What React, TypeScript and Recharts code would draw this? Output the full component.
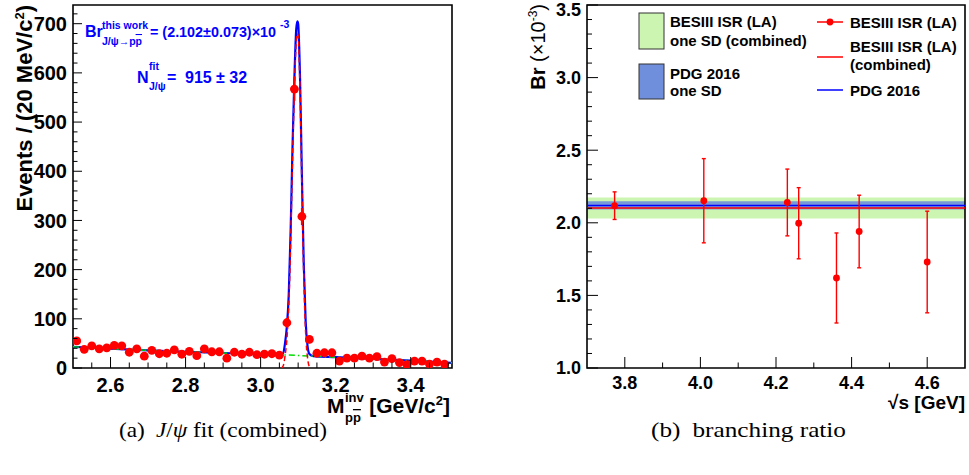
import React from 'react';
import {
  ComposedChart,
  Scatter,
  Line,
  XAxis,
  YAxis,
  ErrorBar,
  ReferenceArea,
  ReferenceLine,
} from 'recharts';

const FONT = '"Liberation Sans", Arial, Helvetica, sans-serif';
const SERIF = '"Liberation Serif", "Times New Roman", serif';
const RED = '#ff0000';
const BLUE = '#0000ff';

// (a) invariant mass histogram, 20 MeV bins
const massBins = [
  2.51, 2.53, 2.55, 2.57, 2.59, 2.61, 2.63, 2.65, 2.67, 2.69,
  2.71, 2.73, 2.75, 2.77, 2.79, 2.81, 2.83, 2.85, 2.87, 2.89,
  2.91, 2.93, 2.95, 2.97, 2.99, 3.01, 3.03, 3.05, 3.07, 3.09,
  3.11, 3.13, 3.15, 3.17, 3.19, 3.21, 3.23, 3.25, 3.27, 3.29,
  3.31, 3.33, 3.35, 3.37, 3.39, 3.41, 3.43, 3.45, 3.47, 3.49,
];
const events = [
  55, 38, 45, 39, 41, 46, 45, 32, 39, 24,
  36, 29, 30, 37, 28, 34, 25, 39, 33, 33,
  20, 32, 28, 32, 27, 28, 29, 26, 92, 567,
  308, 58, 30, 31, 31, 14, 20, 20, 24, 20,
  23, 12, 19, 11, 7, 14, 14, 8, 12, 8,
];
const eventErrors = [
  7.4, 6.2, 6.7, 6.2, 6.4, 6.8, 6.7, 5.7, 6.2, 4.9,
  6, 5.4, 5.5, 6.1, 5.3, 5.8, 5, 6.2, 5.7, 5.7,
  4.5, 5.7, 5.3, 5.7, 5.2, 5.3, 5.4, 5.1, 9.6, 23.8,
  17.5, 7.6, 5.5, 5.6, 5.6, 3.7, 4.5, 4.5, 4.9, 4.5,
  4.8, 3.5, 4.4, 3.3, 2.7, 3.7, 3.7, 2.8, 3.5, 2.8,
];

// fit curves (total, signal, background)
const fitMass = [
  2.5, 2.6, 2.7, 2.8, 2.9, 3.0, 3.05, 3.06, 3.065, 3.07, 3.075, 3.08, 3.085, 3.09,
  3.095, 3.098, 3.1, 3.105, 3.11, 3.115, 3.12, 3.125, 3.13, 3.14, 3.2, 3.3, 3.4, 3.51,
];
const fitTotal = [
  43, 39.5, 36, 33, 30.5, 28, 26.5, 30, 50, 85, 150, 280, 450, 590,
  690, 705, 700, 590, 390, 210, 95, 45, 28.5, 24, 22, 18.5, 15, 10.5,
];
const signalMass = [
  3.055, 3.06, 3.065, 3.07, 3.075, 3.08, 3.085, 3.09, 3.095,
  3.098, 3.1, 3.105, 3.11, 3.115, 3.12, 3.125, 3.13, 3.136,
];
const signalFit = [0, 4, 24, 59, 124, 254, 424, 564, 664, 680, 675, 566, 366, 186, 71, 21, 3, 0];
const bkgMass = [2.5, 2.6, 2.7, 2.8, 2.9, 3.0, 3.1, 3.2, 3.3, 3.4, 3.51];
const bkgFit = [43, 39.5, 36, 33, 30.5, 28, 25.5, 22, 18.5, 15, 10.5];

const massTicks = [2.6, 2.8, 3.0, 3.2, 3.4];
const eventTicks = [0, 100, 200, 300, 400, 500, 600, 700];

// (b) branching ratio per energy point
const energies = [3.773, 4.009, 4.23, 4.26, 4.36, 4.42, 4.6];
const brValues = [2.118, 2.152, 2.14, 1.997, 1.62, 1.94, 1.73];
const brErrors = [0.095, 0.29, 0.23, 0.245, 0.31, 0.25, 0.35];
const brCombined = 2.102;
const brCombinedErr = 0.073;
const brPdg = 2.12;
const brPdgErr = 0.029;

const energyTicks = [3.8, 4.0, 4.2, 4.4, 4.6];
const brTicks = [1.0, 1.5, 2.0, 2.5, 3.0, 3.5];

const steps = (from: number, to: number, step: number) => {
  const out: number[] = [];
  for (let i = 0; from + i * step <= to + 1e-9; i++) out.push(+(from + i * step).toFixed(4));
  return out;
};

const massPoints = massBins.map((x, i) => ({ x, y: events[i], ex: 0.01, ey: eventErrors[i] }));
const totalCurve = fitMass.map((x, i) => ({ x, y: fitTotal[i] }));
const signalCurve = signalMass.map((x, i) => ({ x, y: signalFit[i] }));
const bkgCurve = bkgMass.map((x, i) => ({ x, y: bkgFit[i] }));
const brPoints = energies.map((x, i) => ({ x, y: brValues[i], err: brErrors[i] }));

const isIn = (v: number, list: number[]) => list.some((m) => Math.abs(m - v) < 1e-6);

type TickOpts = { majors: number[]; major: number; minor: number; size: number; digits: number; drop?: number };

const makeYTick = (o: TickOpts) => (props: any) => {
  const { x, y, payload } = props;
  const big = isIn(payload.value, o.majors);
  // ROOT nudges the topmost label down so it stays inside the pad
  const ty = Math.max(y, 10);
  return (
    <g>
      <line x1={x} x2={x + (big ? o.major : o.minor)} y1={y} y2={y} stroke="#000" strokeWidth={1} />
      {big && (
        <text x={x - 6} y={ty} dy="0.36em" textAnchor="end" fontFamily={FONT} fontWeight="bold" fontSize={o.size} fill="#000">
          {payload.value.toFixed(o.digits)}
        </text>
      )}
    </g>
  );
};

const makeXTick = (o: TickOpts) => (props: any) => {
  const { x, y, payload } = props;
  const big = isIn(payload.value, o.majors);
  return (
    <g>
      <line x1={x} x2={x} y1={y} y2={y - (big ? o.major : o.minor)} stroke="#000" strokeWidth={1} />
      {big && (
        <text x={x} y={y + (o.drop || 22)} textAnchor="middle" fontFamily={FONT} fontWeight="bold" fontSize={o.size} fill="#000">
          {payload.value.toFixed(o.digits)}
        </text>
      )}
    </g>
  );
};

const dot = (r: number) => (p: any) => <circle cx={p.cx} cy={p.cy} r={r} fill={RED} />;

const MassFit = () => (
  <ComposedChart width={480} height={430} margin={{ top: 5, right: 28, bottom: 32, left: 0 }}>
    <XAxis
      type="number"
      dataKey="x"
      domain={[2.5, 3.51]}
      allowDataOverflow
      ticks={steps(2.55, 3.5, 0.05)}
      interval={0}
      tickSize={0}
      tickMargin={0}
      tickLine={false}
      axisLine={false}
      height={30}
      tick={makeXTick({ majors: massTicks, major: 11, minor: 5.5, size: 20, digits: 1, drop: 24 })}
    />
    <YAxis
      type="number"
      dataKey="y"
      domain={[0, 738]}
      allowDataOverflow
      ticks={steps(0, 720, 20)}
      interval={0}
      tickSize={0}
      tickMargin={0}
      tickLine={false}
      axisLine={false}
      width={73}
      tick={makeYTick({ majors: eventTicks, major: 9, minor: 4.5, size: 20, digits: 0 })}
    />
    <Line data={totalCurve} dataKey="y" type="monotone" stroke={BLUE} strokeWidth={2.2} dot={false} activeDot={false} isAnimationActive={false} />
    <Line data={bkgCurve} dataKey="y" type="monotone" stroke="#00dd00" strokeWidth={1.5} strokeDasharray="6 3 1.5 3" dot={false} activeDot={false} isAnimationActive={false} />
    <Line data={signalCurve} dataKey="y" type="monotone" stroke={RED} strokeWidth={1.5} strokeDasharray="5 3" dot={false} activeDot={false} isAnimationActive={false} />
    <Scatter data={massPoints} fill={RED} shape={dot(4.4)} isAnimationActive={false}>
      <ErrorBar dataKey="ex" direction="x" width={0} stroke={RED} strokeWidth={2} />
      <ErrorBar dataKey="ey" direction="y" width={0} stroke={RED} strokeWidth={2} />
    </Scatter>
    <ReferenceArea x1={2.5} x2={3.51} y1={0} y2={738} fill="none" fillOpacity={0} stroke="#000" strokeWidth={1.6} />
  </ComposedChart>
);

const BranchingRatio = () => (
  <ComposedChart width={469} height={430} margin={{ top: 5, right: 4, bottom: 32, left: 0 }}>
    <XAxis
      type="number"
      dataKey="x"
      domain={[3.7, 4.7]}
      allowDataOverflow
      ticks={[3.8, 3.9, 4.0, 4.1, 4.2, 4.3, 4.4, 4.5, 4.6]}
      interval={0}
      tickSize={0}
      tickMargin={0}
      tickLine={false}
      axisLine={false}
      height={30}
      tick={makeXTick({ majors: energyTicks, major: 11, minor: 5.5, size: 18, digits: 1, drop: 21 })}
    />
    <YAxis
      type="number"
      dataKey="y"
      domain={[1, 3.5]}
      allowDataOverflow
      ticks={steps(1.0, 3.5, 0.1)}
      interval={0}
      tickSize={0}
      tickMargin={0}
      tickLine={false}
      axisLine={false}
      width={87}
      tick={makeYTick({ majors: brTicks, major: 11, minor: 5, size: 18, digits: 1 })}
    />
    <ReferenceArea y1={brCombined - brCombinedErr} y2={brCombined + brCombinedErr} fill="#cdf5b2" fillOpacity={1} />
    <ReferenceArea y1={brPdg - brPdgErr} y2={brPdg + brPdgErr} fill="#6f8fdc" fillOpacity={0.9} />
    <ReferenceLine y={brCombined} stroke={RED} strokeWidth={1.5} />
    <ReferenceLine y={brPdg} stroke={BLUE} strokeWidth={1.5} />
    <Scatter data={brPoints} fill={RED} shape={dot(3.4)} isAnimationActive={false}>
      <ErrorBar dataKey="err" direction="y" width={2} stroke={RED} strokeWidth={1.4} />
    </Scatter>
    <ReferenceArea x1={3.7} x2={4.7} y1={1} y2={3.5} fill="none" fillOpacity={0} stroke="#000" strokeWidth={1.6} />
  </ComposedChart>
);

const Overlay = () => (
  <svg width={969} height={475} style={{ position: 'absolute', left: 0, top: 0, pointerEvents: 'none' }}>
    <g fontFamily={FONT} fontWeight="bold">
      {/* (a) axis titles */}
      <text transform="translate(32,5) rotate(-90)" textAnchor="end" fontSize={22}>
        Events / (20 MeV/c<tspan dy={-8} fontSize={13}>2</tspan>
        <tspan dy={8}>)</tspan>
      </text>
      <text x={327} y={413} fontSize={21}>M</text>
      <text x={345} y={402} fontSize={13}>inv</text>
      <text x={345} y={422} fontSize={13}>
        p<tspan style={{ textDecoration: 'overline' }}>p</tspan>
      </text>
      <text x={450} y={413} fontSize={21} textAnchor="end">
        [GeV/c<tspan dy={-8} fontSize={13}>2</tspan>
        <tspan dy={8}>]</tspan>
      </text>

      {/* (a) fit annotations */}
      <g fill={BLUE}>
        <text x={85} y={37} fontSize={16}>Br</text>
        <text x={102} y={29} fontSize={10.5}>this work</text>
        <text x={102} y={45} fontSize={10.5}>
          J/ψ→p<tspan style={{ textDecoration: 'overline' }}>p</tspan>
        </text>
        <text x={150} y={37} fontSize={14.3} textLength={126} lengthAdjust="spacingAndGlyphs">
          = (2.102±0.073)×10
        </text>
        <text x={280} y={28} fontSize={10.5}>-3</text>
        <text x={137} y={83} fontSize={16}>N</text>
        <text x={149} y={70} fontSize={10.5}>fit</text>
        <text x={149} y={90} fontSize={10.5}>J/ψ</text>
        <text x={167} y={83} fontSize={16}>=</text>
        <text x={185} y={83} fontSize={16}>915</text>
        <text x={216} y={83} fontSize={16}>± 32</text>
      </g>

      {/* (b) axis titles */}
      <text transform="translate(545,4) rotate(-90)" textAnchor="end" fontSize={20}>
        Br <tspan fontWeight="normal">(×10</tspan>
        <tspan fontWeight="normal" dy={-8} fontSize={12}>-3</tspan>
        <tspan fontWeight="normal" dy={8}>)</tspan>
      </text>
      <text x={965} y={409} fontSize={19} textAnchor="end">√s [GeV]</text>

      {/* (b) legend */}
      <rect x={639} y={13} width={25} height={36} fill="#cdf5b2" stroke="#333" strokeWidth={1} />
      <rect x={639} y={64} width={25} height={35} fill="#6f8fdc" stroke="#333" strokeWidth={1} />
      <g fontSize={15}>
        <text x={670} y={27}>BESIII ISR (LA)</text>
        <text x={670} y={46}>one SD (combined)</text>
        <text x={670} y={79}>PDG 2016</text>
        <text x={670} y={96}>one SD</text>
        <text x={850} y={28}>BESIII ISR (LA)</text>
        <text x={850} y={52}>BESIII ISR (LA)</text>
        <text x={850} y={70}>(combined)</text>
        <text x={850} y={96}>PDG 2016</text>
      </g>
      <line x1={817} x2={843} y1={22} y2={22} stroke={RED} strokeWidth={1.5} />
      <circle cx={830} cy={22} r={3.4} fill={RED} />
      <line x1={817} x2={843} y1={57} y2={57} stroke={RED} strokeWidth={1.5} />
      <line x1={817} x2={843} y1={90} y2={90} stroke={BLUE} strokeWidth={1.5} />
    </g>

    {/* captions */}
    <g fontFamily={SERIF} fontSize={21} fill="#000">
      <text x={119} y={437} textLength={208} lengthAdjust="spacingAndGlyphs">
        (a)<tspan dx={10} fontStyle="italic">J</tspan>/<tspan fontStyle="italic">ψ</tspan> fit (combined)
      </text>
      <text x={651} y={437} textLength={195} lengthAdjust="spacingAndGlyphs">
        (b)<tspan dx={10}>branching ratio</tspan>
      </text>
    </g>
  </svg>
);

export default function App() {
  return (
    <div style={{ position: 'absolute', left: 0, top: 0, width: 969, height: 475, background: '#fff' }}>
      <div style={{ position: 'absolute', left: 0, top: 0 }}>
        <MassFit />
      </div>
      <div style={{ position: 'absolute', left: 500, top: 0 }}>
        <BranchingRatio />
      </div>
      <Overlay />
    </div>
  );
}
